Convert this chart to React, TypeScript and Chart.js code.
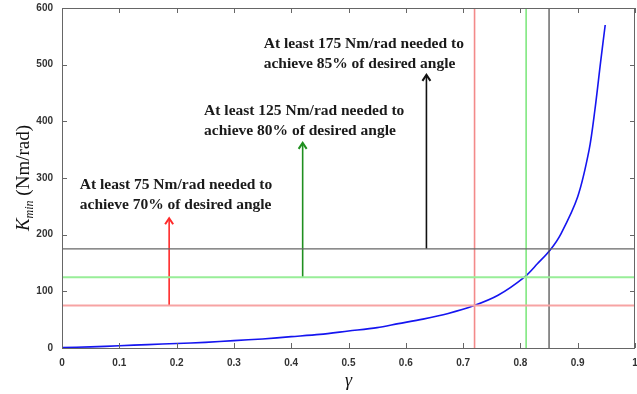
import React, { useEffect, useRef } from "react";
import { Chart, registerables } from "chart.js";
Chart.register(...registerables);

const gammaValues = [0, 0.05, 0.1, 0.15, 0.2, 0.25, 0.3, 0.35, 0.4, 0.45, 0.5, 0.55, 0.587, 0.63, 0.674, 0.717, 0.761, 0.807, 0.83, 0.852, 0.871, 0.9, 0.92, 0.93, 0.94, 0.948];
const kminValues = [1, 2, 4, 6, 8, 10, 13, 16, 20, 24, 30, 36, 43, 51, 61, 74, 93, 125, 149, 173, 202, 267, 350, 420, 505, 570];

const thresholdK = [75, 125, 175];
const thresholdGamma = [0.72, 0.81, 0.85];
const hLineColors = ["#f7a3a3", "#98ee98", "#666666"];
const vLineColors = ["#f38a8a", "#7fe87f", "#444444"];

const arrowGamma = [0.187, 0.42, 0.636];
const arrowTipK = [229, 362, 482];
const arrowColors = ["#ff2a2a", "#1f8f1f", "#111111"];

const noteLines = [
  ["At least 75 Nm/rad needed to", "achieve 70% of desired angle"],
  ["At least 125 Nm/rad needed to", "achieve 80% of desired angle"],
  ["At least 175 Nm/rad needed to", "achieve 85% of desired angle"],
];
const noteGamma = [0.031, 0.248, 0.352];
const noteTopK = [287, 418, 537];

const xTicks = [0, 0.1, 0.2, 0.3, 0.4, 0.5, 0.6, 0.7, 0.8, 0.9, 1];
const yTicks = [0, 100, 200, 300, 400, 500, 600];

const overlay = {
  id: "overlay",
  afterDatasetsDraw(chart: any) {
    const { ctx, chartArea, scales } = chart;
    const { left, right, top, bottom } = chartArea;
    const x = scales.x;
    const y = scales.y;
    ctx.save();
    arrowGamma.forEach((g, i) => {
      const px = x.getPixelForValue(g);
      const py = y.getPixelForValue(arrowTipK[i]);
      ctx.strokeStyle = arrowColors[i];
      ctx.lineWidth = 2;
      ctx.beginPath();
      ctx.moveTo(px - 4, py + 6);
      ctx.lineTo(px, py);
      ctx.lineTo(px + 4, py + 6);
      ctx.stroke();
    });
    ctx.strokeStyle = "#666";
    ctx.lineWidth = 1;
    ctx.strokeRect(left + 0.5, top + 0.5, right - left - 1, bottom - top);
    ctx.beginPath();
    xTicks.forEach((t) => {
      const px = Math.round(x.getPixelForValue(t)) + 0.5;
      ctx.moveTo(px, bottom);
      ctx.lineTo(px, bottom - 5);
      ctx.moveTo(px, top);
      ctx.lineTo(px, top + 5);
    });
    yTicks.forEach((t) => {
      const py = Math.round(y.getPixelForValue(t)) + 0.5;
      ctx.moveTo(left, py);
      ctx.lineTo(left + 5, py);
      ctx.moveTo(right, py);
      ctx.lineTo(right - 5, py);
    });
    ctx.stroke();
    ctx.fillStyle = "#1a1a1a";
    ctx.font = "bold 15.5px 'Liberation Serif', serif";
    ctx.textAlign = "left";
    ctx.textBaseline = "middle";
    noteLines.forEach((lines, i) => {
      const px = x.getPixelForValue(noteGamma[i]);
      const py = y.getPixelForValue(noteTopK[i]);
      lines.forEach((ln, j) => ctx.fillText(ln, px, py + j * 20));
    });
    ctx.font = "italic 18px 'Liberation Serif', serif";
    ctx.textAlign = "center";
    ctx.fillStyle = "#111";
    ctx.fillText("γ", x.getPixelForValue(0.5), 381);
    ctx.translate(22, (top + bottom) / 2);
    ctx.rotate(-Math.PI / 2);
    ctx.textAlign = "left";
    ctx.textBaseline = "alphabetic";
    const f1 = "italic 19px 'Liberation Serif', serif";
    const f2 = "italic 12px 'Liberation Serif', serif";
    const f3 = "19px 'Liberation Serif', serif";
    ctx.font = f1;
    const w1 = ctx.measureText("K").width;
    ctx.font = f2;
    const w2 = ctx.measureText("min").width;
    ctx.font = f3;
    const w3 = ctx.measureText(" (Nm/rad)").width;
    let sx = -(w1 + w2 + w3) / 2;
    ctx.font = f1;
    ctx.fillText("K", sx, 7);
    sx += w1;
    ctx.font = f2;
    ctx.fillText("min", sx, 11);
    sx += w2;
    ctx.font = f3;
    ctx.fillText(" (Nm/rad)", sx, 7);
    ctx.restore();
  },
};

export default function App() {
  const ref = useRef<HTMLCanvasElement>(null);
  useEffect(() => {
    if (!ref.current) return;
    const datasets: any[] = [];
    thresholdK.forEach((k, i) => {
      datasets.push({
        data: [{ x: 0, y: k }, { x: 1, y: k }],
        borderColor: hLineColors[i],
        borderWidth: i === 2 ? 1.2 : 2,
        pointRadius: 0,
      });
    });
    thresholdGamma.forEach((g, i) => {
      datasets.push({
        data: [{ x: g, y: 0 }, { x: g, y: 600 }],
        borderColor: vLineColors[i],
        borderWidth: i === 2 ? 1.2 : 1.6,
        pointRadius: 0,
      });
    });
    arrowGamma.forEach((g, i) => {
      datasets.push({
        data: [{ x: g, y: thresholdK[i] }, { x: g, y: arrowTipK[i] }],
        borderColor: arrowColors[i],
        borderWidth: 1.6,
        pointRadius: 0,
      });
    });
    datasets.push({
      data: gammaValues.map((g, i) => ({ x: g, y: kminValues[i] })),
      borderColor: "#1515f0",
      borderWidth: 1.6,
      pointRadius: 0,
      tension: 0.3,
    });
    const chart = new Chart(ref.current, {
      type: "line",
      data: { datasets },
      options: {
        animation: false,
        responsive: false,
        devicePixelRatio: 1,
        layout: { padding: { top: 8, right: 2, left: 0, bottom: 0 } },
        plugins: { legend: { display: false }, tooltip: { enabled: false } },
        scales: {
          x: {
            type: "linear",
            min: 0,
            max: 1,
            afterFit: (s: any) => { s.height = 46; s.paddingLeft = 0; s.paddingRight = 0; },
            afterBuildTicks: (s: any) => { s.ticks = xTicks.map((v) => ({ value: v })); },
            ticks: {
              autoSkip: false,
              maxRotation: 0,
              padding: 9,
              color: "#333",
              font: { family: "'Liberation Sans', sans-serif", size: 10, weight: "bold" },
              callback: (v: any) => String(Math.round(Number(v) * 10) / 10),
            },
            grid: { display: false, drawTicks: false },
            border: { display: false },
          },
          y: {
            type: "linear",
            min: 0,
            max: 600,
            afterFit: (s: any) => { s.width = 62; s.paddingTop = 0; s.paddingBottom = 0; },
            afterBuildTicks: (s: any) => { s.ticks = yTicks.map((v) => ({ value: v })); },
            ticks: {
              padding: 9,
              color: "#333",
              font: { family: "'Liberation Sans', sans-serif", size: 10, weight: "bold" },
            },
            grid: { display: false, drawTicks: false },
            border: { display: false },
          },
        },
      },
      plugins: [overlay],
    });
    return () => chart.destroy();
  }, []);
  return (
    <div style={{ position: "fixed", left: 0, top: 0, width: 637, height: 394, background: "#fff" }}>
      <canvas ref={ref} width={637} height={394} />
    </div>
  );
}
